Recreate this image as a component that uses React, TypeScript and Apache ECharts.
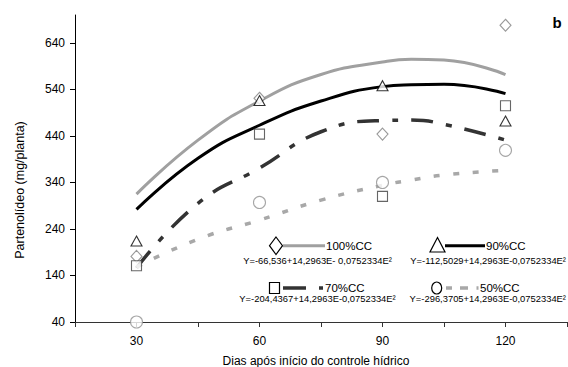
import React, { useEffect, useRef } from "react";
import * as echarts from "echarts";

const days = [30, 60, 90, 120];
const obs100 = [181, 521, 444, 678];
const obs90 = [214, 516, 548, 472];
const obs70 = [161, 444, 310, 505];
const obs50 = [40, 297, 340, 409];

const curveDays = [30, 45, 60, 75, 90, 97, 105, 120];
const fit100 = [315, 431, 515, 572, 599, 605, 603, 572];
const fit90 = [282, 392, 463, 515, 546, 550, 551, 531];
const fit70 = [156, 295, 371, 449, 473, 474, 465, 431];
const fit50 = [158, 218, 259, 302, 334, 345, 356, 366];

const yTicks = [40, 140, 240, 340, 440, 540, 640];
const xLabels = [30, 60, 90, 120];

const legendNames = ["100%CC", "90%CC", "70%CC", "50%CC"];
const legendFormulas = [
  "Y=-66,536+14,2963E- 0,0752334E²",
  "Y=-112,5029+14,2963E-0,0752334E²",
  "Y=-204,4367+14,2963E-0,0752334E²",
  "Y=-296,3705+14,2963E-0,0752334E²",
];

const FONT = "'Liberation Sans', Arial, sans-serif";

export default function App() {
  const ref = useRef<HTMLDivElement>(null);
  useEffect(() => {
    if (!ref.current) return;
    const chart = echarts.init(ref.current, null, { renderer: "svg" });
    const pair = (xs: number[], ys: number[]) => xs.map((x, i) => [x, ys[i]]);
    const lineSeries = (data: number[], color: string, width: number, dash: any) => ({
      type: "line",
      data: pair(curveDays, data),
      smooth: true,
      showSymbol: false,
      symbol: "none",
      lineStyle: { color, width, type: dash, cap: "butt" },
      z: 2,
    });
    const scatter = (data: number[], symbol: string, size: any, color: string) => ({
      type: "scatter",
      data: pair(days, data),
      symbol,
      symbolSize: size,
      clip: false,
      itemStyle: { color: "#fff", borderColor: color, borderWidth: 1.1 },
      z: 5,
    });
    const txt = (x: number, y: number, text: string, size: number, extra: any = {}, rest: any = {}) => ({
      type: "text",
      x,
      y,
      style: {
        text,
        font: `${size}px ${FONT}`,
        fill: "#000",
        textVerticalAlign: "middle",
        ...extra,
      },
      z: 10,
      ...rest,
    });
    chart.setOption({
      animation: false,
      grid: { left: 75, right: 1, top: 15, bottom: 45, containLabel: false, outerBoundsMode: "none" },
      xAxis: {
        type: "value",
        min: 15,
        max: 135,
        interval: 15,
        axisLine: { show: true, lineStyle: { color: "#333", width: 1 } },
        axisTick: { show: true, length: 5, lineStyle: { color: "#333" } },
        axisLabel: {
          customValues: xLabels,
          color: "#000",
          fontSize: 12,
          fontFamily: FONT,
          margin: 13,
        },
        splitLine: { show: false },
      },
      yAxis: {
        type: "value",
        min: 40,
        max: 700,
        axisLine: { show: true, lineStyle: { color: "#000", width: 1 } },
        axisTick: { show: true, length: 5, customValues: yTicks, lineStyle: { color: "#000" } },
        axisLabel: {
          customValues: yTicks,
          color: "#000",
          fontSize: 12,
          fontFamily: FONT,
          margin: 10,
        },
        splitLine: { show: false },
      },
      series: [
        lineSeries(fit100, "#a0a0a0", 3, "solid"),
        lineSeries(fit90, "#000", 3, "solid"),
        lineSeries(fit70, "#333", 3.5, [22, 13, 6, 13]),
        lineSeries(fit50, "#a8a8a8", 3.5, [6, 13.5]),
        scatter(obs100, "diamond", [11, 12], "#808080"),
        scatter(obs90, "triangle", [11, 10], "#000"),
        scatter(obs70, "rect", [10, 10], "#404040"),
        scatter(obs50, "circle", 12, "#909090"),
      ],
      graphic: [
        txt(20, 190, "Partenolídeo (mg/planta)", 12.5, { textAlign: "center" }, { rotation: Math.PI / 2 }),
        txt(316, 361, "Dias após início do controle hídrico", 12, { textAlign: "center" }),
        txt(557, 22, "b", 15, { font: `bold 15px ${FONT}`, textAlign: "center" }),
        // legend row 1
        {
          type: "polygon",
          shape: { points: [[276, 237], [282.5, 245.7], [276, 254.5], [269.5, 245.7]] },
          style: { fill: "#fff", stroke: "#000", lineWidth: 1.2 },
          z: 10,
        },
        {
          type: "line",
          shape: { x1: 283, y1: 245.7, x2: 325, y2: 245.7 },
          style: { stroke: "#a0a0a0", lineWidth: 3 },
          z: 10,
        },
        txt(326, 245.5, legendNames[0], 11.5, { lineHeight: 11 }),
        txt(317.5, 260.5, legendFormulas[0], 9.4, { textAlign: "center", lineHeight: 10 }),
        {
          type: "polygon",
          shape: { points: [[437.5, 237.5], [445, 252], [430, 252]] },
          style: { fill: "#fff", stroke: "#000", lineWidth: 1.2 },
          z: 10,
        },
        {
          type: "line",
          shape: { x1: 445, y1: 245.7, x2: 485, y2: 245.7 },
          style: { stroke: "#000", lineWidth: 3 },
          z: 10,
        },
        txt(486, 245.5, legendNames[1], 11.5, { lineHeight: 11 }),
        txt(566, 260.5, legendFormulas[1], 9.4, { textAlign: "right", lineHeight: 10 }),
        // legend row 2
        {
          type: "rect",
          shape: { x: 269.5, y: 282.5, width: 10, height: 11 },
          style: { fill: "#fff", stroke: "#000", lineWidth: 1.2 },
          z: 10,
        },
        {
          type: "line",
          shape: { x1: 283, y1: 288, x2: 323, y2: 288 },
          style: { stroke: "#333", lineWidth: 3.5, lineDash: [23, 13, 5, 100] },
          z: 10,
        },
        txt(325, 287.5, legendNames[2], 11.5, { lineHeight: 11 }),
        txt(317.5, 298.5, legendFormulas[2], 9.4, { textAlign: "center", lineHeight: 10 }),
        {
          type: "ellipse",
          shape: { cx: 436.7, cy: 288, rx: 5, ry: 6 },
          style: { fill: "#fff", stroke: "#000", lineWidth: 1.2 },
          z: 10,
        },
        {
          type: "line",
          shape: { x1: 446, y1: 288, x2: 478.5, y2: 288 },
          style: { stroke: "#a8a8a8", lineWidth: 3.5, lineDash: [6, 8, 8, 8.5, 2, 100] },
          z: 10,
        },
        txt(480, 287.5, legendNames[3], 11.5, { lineHeight: 11 }),
        txt(566, 298.5, legendFormulas[3], 9.4, { textAlign: "right", lineHeight: 10 }),
      ],
    });
    return () => chart.dispose();
  }, []);
  return (
    <div
      ref={ref}
      style={{ position: "fixed", left: 0, top: 0, width: 568, height: 367, background: "#fff" }}
    />
  );
}
